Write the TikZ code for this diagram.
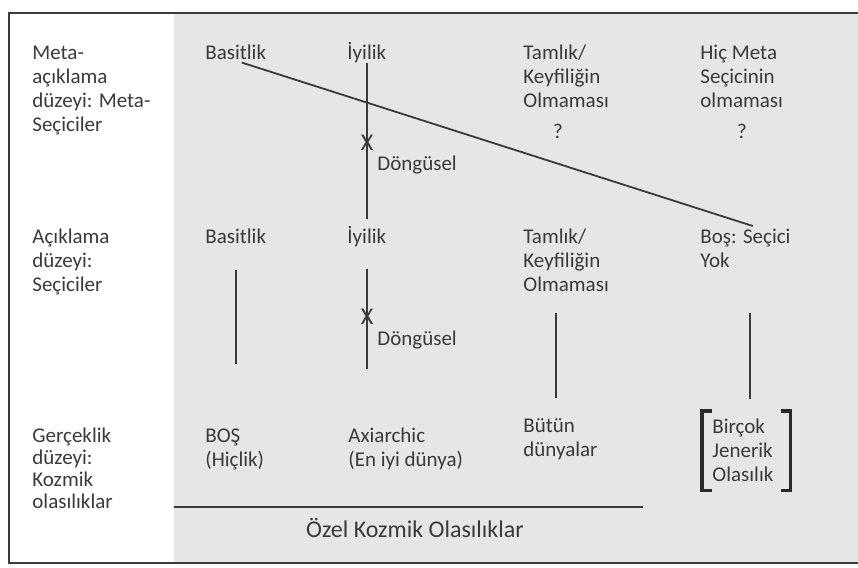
\documentclass[tikz,border=0pt]{standalone}
\usepackage{fontspec}
\setmainfont{Carlito}
\definecolor{panel}{HTML}{E6E6E6}
\definecolor{ink}{HTML}{3A3A3A}
\tikzset{
    lbl/.style={anchor=base west, inner sep=0pt, align=left, text=ink,
        font=\fontsize{10.5pt}{12pt}\selectfont},
    cross/.style={lbl, anchor=center, font=\fontsize{12pt}{12pt}\selectfont},
    link/.style={draw=ink, line width=1pt},
    brk/.style={draw=ink!70!black, line width=1.6pt},
}
\begin{document}
\begin{tikzpicture}[x=0.5pt, y=-0.5pt]
        \useasboundingbox (0,0) rectangle (858,568);
        \fill [panel] (174,13) rectangle (858,563);
        \draw [link] (858,13) -- (9,13) -- (9,563) -- (858,563);

        % multi-line labels sit on the baseline of their last line
        \node [lbl] (lvlmeta) at (32,131) {Meta-\\açıklama\\düzeyi: Meta-\\Seçiciler};
        \node [lbl] (lvlsec) at (32,291) {Açıklama\\düzeyi:\\Seçiciler};
        \node [lbl, font=\fontsize{10.5pt}{11pt}\selectfont] (lvlreal) at (32,508)
            {Gerçeklik\\düzeyi:\\Kozmik\\olasılıklar};

        \node [lbl] (basmeta) at (205,59) {Basitlik};
        \node [lbl] (iyimeta) at (347,59) {İyilik};
        \node [lbl] (tammeta) at (523,107) {Tamlık/\\Keyfiliğin\\Olmaması};
        \node [lbl] (hicmeta) at (700,107) {Hiç Meta\\Seçicinin\\olmaması};
        \node [lbl, anchor=base] (qtam) at (558,138) {?};
        \node [lbl, anchor=base] (qhic) at (742,138) {?};
        \node [cross] (cross1) at (367,143) {X};
        \node [lbl] (dng1) at (377,170) {Döngüsel};

        \node [lbl] (bassec) at (205,243) {Basitlik};
        \node [lbl] (iyisec) at (347,243) {İyilik};
        \node [lbl] (tamsec) at (523,291) {Tamlık/\\Keyfiliğin\\Olmaması};
        \node [lbl] (bossec) at (700,267) {Boş: Seçici\\Yok};
        \node [cross] (cross2) at (367,317) {X};
        \node [lbl] (dng2) at (377,345) {Döngüsel};

        \node [lbl] (bosreal) at (205,466) {BOŞ\\(Hiçlik)};
        \node [lbl] (axireal) at (348,466) {Axiarchic\\(En iyi dünya)};
        \node [lbl] (butreal) at (523,456) {Bütün\\dünyalar};
        \node [lbl, anchor=north west, inner xsep=5pt, inner ysep=4pt,
            text width=34pt] (birreal) at (702,411) {Birçok\\Jenerik\\Olasılık};

        \draw [link, line width=0.9pt, shorten >=3.5pt] ([xshift=3pt, yshift=-1.5pt]basmeta.south) -- ([xshift=7pt]bossec.north);
        \draw [link, shorten >=3pt] (iyimeta.south) -- (iyimeta.south |- iyisec.north);

        \draw [link, shorten <=13pt, shorten >=32pt] (bassec.south) -- (bassec.south |- bosreal.north);
        \draw [link, shorten <=11pt, shorten >=29pt] (iyisec.south) -- (iyisec.south |- axireal.north);
        \draw [link, shorten <=10.5pt, shorten >=10pt] ([xshift=-5pt]tamsec.south) -- ([xshift=-5pt]tamsec.south |- butreal.north);
        \draw [link, shorten <=22.5pt, shorten >=6pt] ([xshift=2.5pt]bossec.south) -- ([xshift=2.5pt]bossec.south |- birreal.north);

        \draw [brk] ([xshift=5pt]birreal.north west) -- (birreal.north west)
            -- (birreal.south west) -- ([xshift=5pt]birreal.south west);
        \draw [brk] ([xshift=-5pt]birreal.north east) -- (birreal.north east)
            -- (birreal.south east) -- ([xshift=-5pt]birreal.south east);

        \draw [link] (174,507) -- (643,507);
        \node [lbl, anchor=base, font=\fontsize{12pt}{14pt}\selectfont] (ozel) at (415,537) {Özel Kozmik Olasılıklar};
\end{tikzpicture}
\end{document}
